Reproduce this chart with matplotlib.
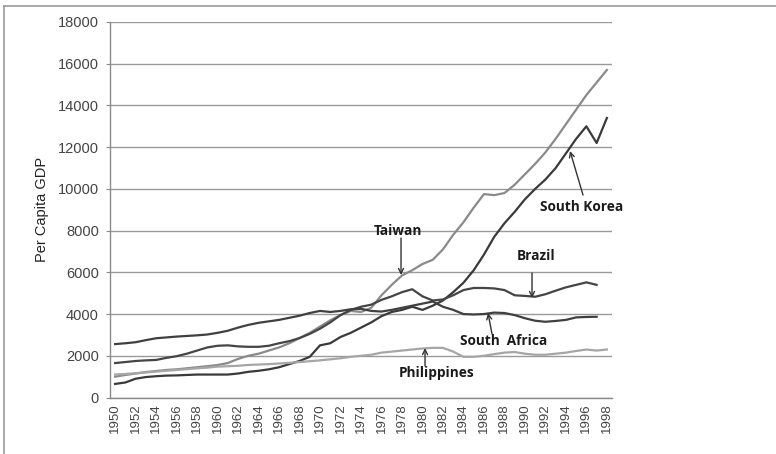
import numpy as np
import matplotlib
matplotlib.use("Agg")
import matplotlib.pyplot as plt
from matplotlib.lines import Line2D

years = list(range(1950, 1999))

taiwan = [1000, 1080, 1150, 1220, 1270, 1320, 1350, 1400, 1450, 1500,
          1560, 1650, 1850, 2000, 2100, 2250, 2400, 2600, 2850, 3100,
          3400, 3700, 3950, 4150, 4100, 4300, 4900, 5400, 5850, 6100,
          6400, 6600, 7100, 7800, 8400, 9100, 9750, 9700, 9800, 10200,
          10700, 11200, 11750, 12400, 13100, 13800, 14500, 15100, 15700]

south_korea = [650, 720, 900, 980, 1020, 1050, 1060, 1080, 1100, 1100,
               1100, 1100, 1150, 1230, 1280, 1350, 1450, 1600, 1750, 1950,
               2500, 2600, 2900, 3100, 3350, 3600, 3900, 4100, 4200, 4350,
               4200, 4400, 4650, 5050, 5500, 6100, 6850, 7700, 8350, 8900,
               9500, 10000, 10450, 11000, 11700, 12400, 13000, 12200, 13400]

brazil = [1650, 1700, 1750, 1780, 1800, 1900, 1980, 2100, 2250, 2400,
          2480, 2500, 2450, 2430, 2430, 2480, 2600, 2700, 2850, 3050,
          3300, 3600, 3950, 4200, 4350, 4450, 4680, 4850, 5050, 5190,
          4850, 4650, 4700, 4900, 5150, 5250, 5250, 5230, 5150, 4900,
          4870, 4830, 4950, 5120, 5280, 5400, 5520, 5400, np.nan]

south_africa = [2560, 2600, 2650, 2750, 2840, 2880, 2920, 2950, 2980, 3020,
                3100, 3200, 3350, 3480, 3580, 3650, 3720, 3820, 3920, 4050,
                4150, 4100, 4150, 4230, 4250, 4150, 4120, 4200, 4300, 4400,
                4500, 4600, 4350, 4200, 4000, 3980, 4000, 4070, 4050, 3950,
                3800, 3680, 3630, 3670, 3720, 3840, 3860, 3870, np.nan]

philippines = [1100, 1130, 1160, 1200, 1240, 1280, 1320, 1360, 1400, 1430,
               1480, 1500, 1520, 1560, 1580, 1600, 1630, 1660, 1700, 1740,
               1780, 1830, 1880, 1950, 2000, 2050, 2150, 2200, 2250, 2300,
               2350, 2380, 2380, 2200, 1950, 1950, 2000, 2080, 2150, 2180,
               2100, 2050, 2050, 2100, 2150, 2230, 2300, 2250, 2300]

series = [
    ("Taiwan", taiwan, "#8a8a8a"),
    ("South Korea", south_korea, "#3a3a3a"),
    ("Brazil", brazil, "#454545"),
    ("South Africa", south_africa, "#404040"),
    ("Philippines", philippines, "#a6a6a6"),
]

fig = plt.figure(figsize=(7.76, 4.54), dpi=100)
fig.patch.set_facecolor("white")
ax = fig.add_axes([110/776, 1-397.5/454, 502/776, 375.5/454])

x = np.arange(len(years))
for name, vals, col in series:
    ax.plot(x, np.array(vals, dtype=float), color=col, lw=1.6, solid_joinstyle="round", zorder=3)

ax.set_xlim(-0.5, len(years) - 0.5)
ax.set_ylim(0, 18000)
ax.set_yticks(np.arange(0, 18001, 2000))
ax.set_xticks(x[::2])
ax.set_xticklabels([str(y) for y in years[::2]], rotation=90, fontsize=9.5,
                   color="#444444", family="Liberation Sans")
for lbl in ax.get_yticklabels():
    lbl.set_fontsize(10.5)
    lbl.set_color("#444444")
    lbl.set_family("Liberation Sans")
ax.grid(axis="y", color="#9a9a9a", lw=1.0, zorder=1)
ax.set_axisbelow(True)
for s in ["top", "right"]:
    ax.spines[s].set_visible(False)
for s in ["left", "bottom"]:
    ax.spines[s].set_color("#8a8a8a")
    ax.spines[s].set_linewidth(1.0)
ax.tick_params(axis="y", length=3, color="#8a8a8a", pad=5)
ax.tick_params(axis="x", length=0, pad=4)
ax.set_ylabel("Per Capita GDP", fontsize=10.5, color="#222222", family="Liberation Sans", labelpad=6)

def px2data(px, py):
    xd = (px - 115.1) / 10.245
    yd = (397.5 - py) / 375.5 * 18000
    return xd, yd

afont = dict(fontsize=9.8, fontweight="bold", family="Open Sans", color="#1a1a1a")
arrowprops = dict(arrowstyle="->", color="#333333", lw=1.0, shrinkA=0, shrinkB=0,
                  mutation_scale=9)

annots = [
    ("Taiwan", (398, 231), (401, 238), (401, 275)),
    ("Brazil", (536, 256), (532, 273), (532, 298)),
    ("South  Africa", (504, 341), (492, 334), (488, 313)),
    ("Philippines", (437, 373), (425, 366), (425, 348)),
    ("South Korea", (582, 207), (583, 195), (570, 151)),
]
for text, tpos, tail, head in annots:
    ax.text(*px2data(*tpos), text, ha="center", va="center", zorder=5, **afont)
    ax.annotate("", xy=px2data(*head), xytext=px2data(*tail), arrowprops=arrowprops, zorder=5)

# outer frame (left and top edges)
fig.add_artist(Line2D([4/776, 4/776], [0, 1-6/454], transform=fig.transFigure,
                      color="#9a9a9a", lw=1.2))
fig.add_artist(Line2D([4/776, 1], [1-6/454, 1-6/454], transform=fig.transFigure,
                      color="#9a9a9a", lw=1.2))

fig.savefig("out.png", dpi=100, facecolor="white")
